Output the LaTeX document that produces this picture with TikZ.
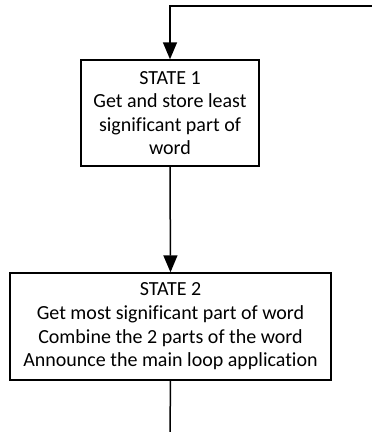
\documentclass[tikz,border=0pt]{standalone}
\usepackage{fontspec}
\setmainfont{Carlito}[Ligatures=NoCommon]
\usetikzlibrary{arrows.meta}
\begin{document}
\begin{tikzpicture}[x=1pt,y=1pt,
  statebox/.style={draw, line width=1.4pt, inner sep=0pt, align=center,
    font=\fontsize{20}{23.6}\selectfont},
  conn/.style={line width=1.5pt},
  arr/.style={conn, -{Triangle[length=17pt,width=14pt]}}]
\useasboundingbox (0,0) rectangle (372,432);
\node[statebox, minimum width=178pt, minimum height=106pt] (s1) at (170,319)
  {STATE 1\\Get and store least\\significant part of\\word};
\node[statebox, minimum width=321pt, minimum height=107pt] (s2) at (170.5,105.5)
  {STATE 2\\Get most significant part of word\\Combine the 2 parts of the word\\Announce the main loop application};
\coordinate (topright) at (372,426);
\coordinate (topleft) at (170,426);
\coordinate (bottom) at (170,0);
\draw[arr] (topright) -- (topleft) -- (s1.north);
\draw[arr] (s1.south) -- (s2.north);
\draw[conn] (s2.south) -- (bottom);
\end{tikzpicture}
\end{document}
